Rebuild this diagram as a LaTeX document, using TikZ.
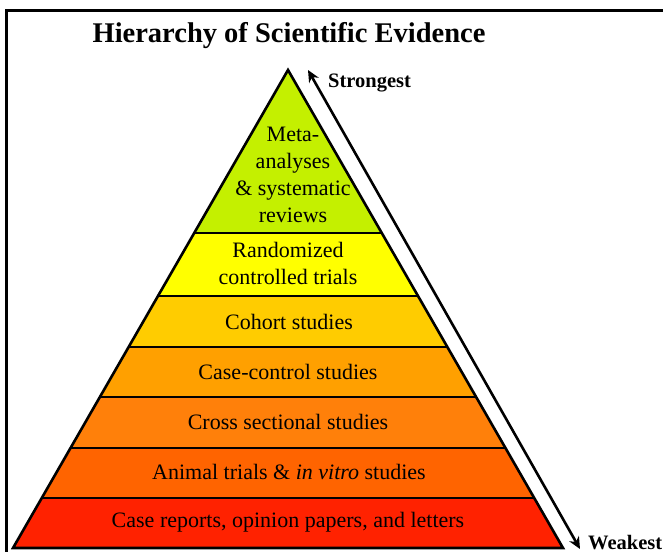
\documentclass[tikz,border=0pt]{standalone}
\usepackage{fontspec}
\setmainfont{Liberation Serif}
\usetikzlibrary{arrows.meta,calc}
\definecolor{cmeta}{RGB}{196,240,0}
\definecolor{crct}{RGB}{255,255,0}
\definecolor{ccoh}{RGB}{255,204,0}
\definecolor{ccc}{RGB}{255,160,0}
\definecolor{ccs}{RGB}{255,128,10}
\definecolor{cani}{RGB}{255,100,0}
\definecolor{ccase}{RGB}{255,34,0}
\tikzset{
  layertext/.style={font=\fontsize{22}{27}\selectfont, align=center, inner sep=0pt},
  sidetext/.style={font=\fontsize{20.5}{24}\selectfont\bfseries, inner sep=0pt, anchor=base west},
  edge/.style={line width=2.6pt, line join=miter},
}
\begin{document}
\begin{tikzpicture}[x=1pt,y=-1pt]
\useasboundingbox (0,0) rectangle (663,551);
% frame
\draw[line width=3pt] (6,553) -- (6,11) -- (665,11);
% title
\node[font=\fontsize{28.5}{32}\selectfont\bfseries, anchor=base, inner sep=0pt] (title) at (289,42) {Hierarchy of Scientific Evidence};
% pyramid coordinates
\coordinate (A) at (288,70);
\coordinate (BL) at (13,548);
\coordinate (BR) at (563,548);
\foreach \n/\t in {1/0.341,2/0.4728,3/0.5795,4/0.6841,5/0.7908,6/0.8954}{
  \coordinate (L\n) at ($(A)!\t!(BL)$);
  \coordinate (R\n) at ($(A)!\t!(BR)$);
}
% layer fills
\fill[cmeta] (A) -- (L1) -- (R1) -- cycle;
\fill[crct] (L1) -- (L2) -- (R2) -- (R1) -- cycle;
\fill[ccoh] (L2) -- (L3) -- (R3) -- (R2) -- cycle;
\fill[ccc] (L3) -- (L4) -- (R4) -- (R3) -- cycle;
\fill[ccs] (L4) -- (L5) -- (R5) -- (R4) -- cycle;
\fill[cani] (L5) -- (L6) -- (R6) -- (R5) -- cycle;
\fill[ccase] (L6) -- (BL) -- (BR) -- (R6) -- cycle;
% separators and outline
\foreach \n in {1,...,6}{\draw[edge] (L\n) -- (R\n);}
\draw[edge] (A) -- (BL) -- (BR) -- cycle;
% texts
\node[layertext] (meta) at (293,175) {Meta-\\analyses\\\& systematic\\reviews};
\node[layertext] (rct) at (288,263) {Randomized\\controlled trials};
\node[layertext] (coh) at (289,322) {Cohort studies};
\node[layertext] (cc) at (288,372) {Case-control studies};
\node[layertext] (cs) at (288,422) {Cross sectional studies};
\node[layertext] (ani) at (289,472) {Animal trials \& \textit{in vitro} studies};
\node[layertext] (case) at (288,522) {Case reports, opinion papers, and letters};
% arrow
\coordinate (top) at (308,70);
\coordinate (bot) at (580,549);
\draw[line width=2.6pt, {Stealth[length=12pt,width=11pt]}-{Stealth[length=12pt,width=11pt]}] (top) -- (bot);
\node[sidetext] (strong) at (328,87) {Strongest};
\node[sidetext] (weak) at (588,549) {Weakest};
\end{tikzpicture}
\end{document}
